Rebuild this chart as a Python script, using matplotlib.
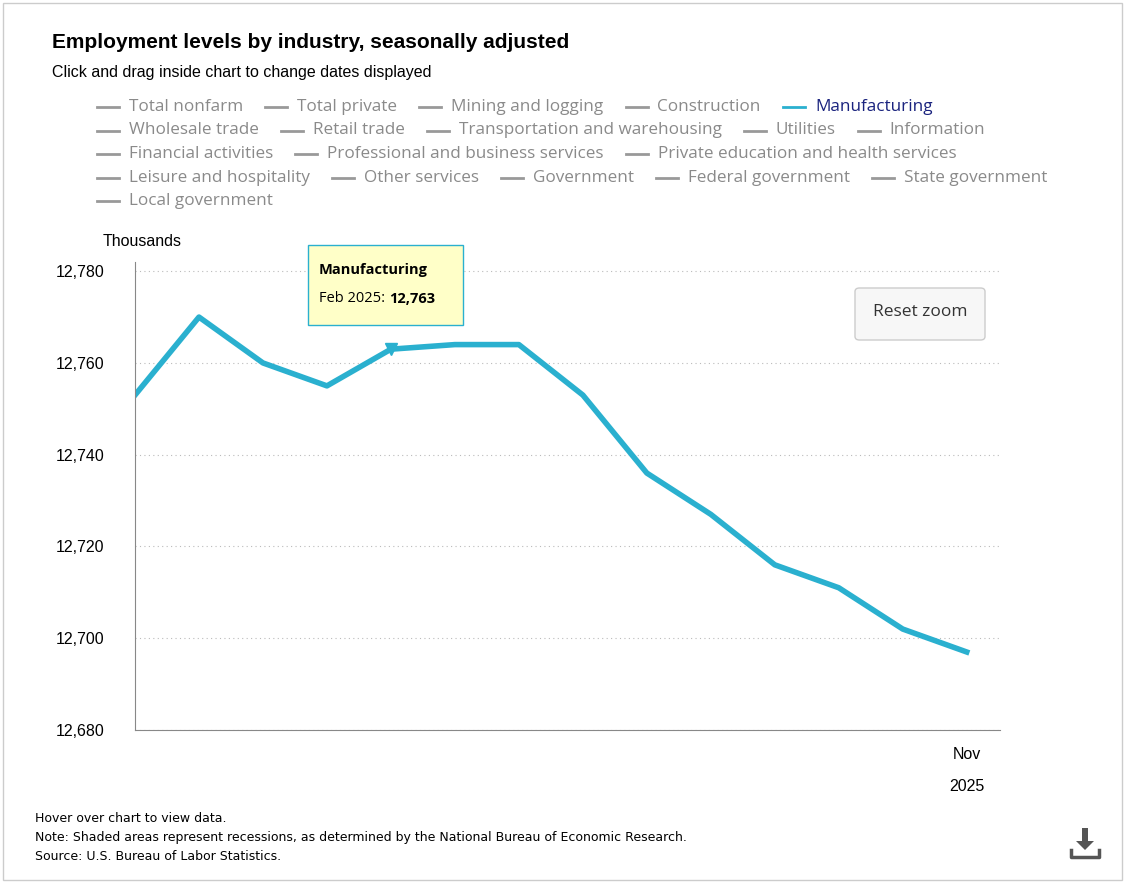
import matplotlib
matplotlib.use("Agg")
import matplotlib.pyplot as plt
from matplotlib.patches import Rectangle, FancyBboxPatch, Polygon

months = ["Oct 2024", "Nov 2024", "Dec 2024", "Jan 2025", "Feb 2025", "Mar 2025", "Apr 2025",
          "May 2025", "Jun 2025", "Jul 2025", "Aug 2025", "Sep 2025", "Oct 2025", "Nov 2025"]
values = [12753, 12770, 12760, 12755, 12763, 12764, 12764, 12753, 12736, 12727, 12716, 12711, 12702, 12697]
yticks = [12680, 12700, 12720, 12740, 12760, 12780]

legend_rows = [
    ["Total nonfarm", "Total private", "Mining and logging", "Construction", "Manufacturing"],
    ["Wholesale trade", "Retail trade", "Transportation and warehousing", "Utilities", "Information"],
    ["Financial activities", "Professional and business services", "Private education and health services"],
    ["Leisure and hospitality", "Other services", "Government", "Federal government", "State government"],
    ["Local government"],
]

W, H = 1125, 883
fig = plt.figure(figsize=(11.25, 8.83), dpi=100)
fig.add_artist(Rectangle((0.003, 0.003), 0.994, 0.994, transform=fig.transFigure,
                         fill=False, edgecolor="#cccccc", lw=1))

def fx(px): return px / W
def fy(py): return 1 - py / H

fig.text(fx(52), fy(42), "Employment levels by industry, seasonally adjusted", fontsize=15,
         fontweight="bold", family="Liberation Sans", va="center")
fig.text(fx(52), fy(72), "Click and drag inside chart to change dates displayed", fontsize=11.5,
         family="Liberation Sans", va="center")

# legend rows, laid out with measured text widths
renderer = fig.canvas.get_renderer()
for r, row in enumerate(legend_rows):
    x = 97
    y = 107 + r * 23.5
    for name in row:
        active = name == "Manufacturing"
        lc = "#2ab0cf" if active else "#999999"
        tc = "#1a237e" if active else "#8a8a8a"
        fig.add_artist(plt.Line2D([fx(x), fx(x + 22)], [fy(y), fy(y)], color=lc, lw=2))
        t = fig.text(fx(x + 32), fy(y), name, fontsize=12.3, color=tc, family="Open Sans", va="center")
        w = t.get_window_extent(renderer).width
        x = x + 32 + w + 22

ax = fig.add_axes([fx(135), fy(730), fx(1000 - 135), fy(262) - fy(730)])
ax.plot(range(len(values)), values, color="#2ab0cf", lw=4, solid_joinstyle="round")
ax.plot([4], [values[4]], marker="v", color="#2ab0cf", ms=8)
ax.set_xlim(0, len(values) - 1 + 0.52)
ax.set_ylim(12680, 12782)
ax.set_yticks(yticks)
ax.set_yticklabels([f"{v:,}" for v in yticks], fontsize=11.5, family="Liberation Sans")
ax.yaxis.grid(True, linestyle=(0, (1, 3)), color="#bbbbbb")
ax.set_xticks([len(values) - 1])
ax.set_xticklabels(["Nov\n\n2025"], fontsize=11.5, family="Liberation Sans", linespacing=1.1)
ax.tick_params(axis="y", length=0, pad=22)
ax.tick_params(axis="x", length=0, pad=12)
for s in ["top", "right"]:
    ax.spines[s].set_visible(False)
ax.spines["left"].set_color("#888888")
ax.spines["bottom"].set_color("#888888")
fig.text(fx(103), fy(242), "Thousands", fontsize=11.5, family="Liberation Sans", va="center")

# tooltip
fig.add_artist(FancyBboxPatch((fx(308), fy(325)), fx(155), fy(245) - fy(325), transform=fig.transFigure,
                              boxstyle="square,pad=0", facecolor="#ffffc8", edgecolor="#2ab0cf", lw=1))
fig.text(fx(319), fy(270), "Manufacturing", fontsize=10.5, fontweight="bold", family="Open Sans", va="center")
fig.text(fx(319), fy(299), "Feb 2025:", fontsize=10.5, family="Open Sans", va="center")
fig.text(fx(389), fy(299), "12,763", fontsize=10.5, fontweight="bold", family="Open Sans", va="center")

# reset zoom button
fig.add_artist(FancyBboxPatch((fx(855), fy(340)), fx(130), fy(288) - fy(340), transform=fig.transFigure,
                              boxstyle="round,pad=0,rounding_size=0.004", facecolor="#f7f7f7",
                              edgecolor="#cccccc", lw=1))
fig.text(fx(920), fy(312), "Reset zoom", fontsize=12.5, family="Open Sans", ha="center", va="center", color="#333333")

notes = ["Hover over chart to view data.",
         "Note: Shaded areas represent recessions, as determined by the National Bureau of Economic Research.",
         "Source: U.S. Bureau of Labor Statistics."]
for i, n in enumerate(notes):
    fig.text(fx(35), fy(818 + i * 19), n, fontsize=9, family="DejaVu Sans", va="center")

# download icon drawn as shapes
ic = "#555555"
fig.add_artist(Rectangle((fx(1082), fy(842)), fx(6), fy(828) - fy(842), transform=fig.transFigure,
                         facecolor=ic, edgecolor="none"))
fig.add_artist(Polygon([(fx(1076), fy(841)), (fx(1094), fy(841)), (fx(1085), fy(850))],
                       closed=True, transform=fig.transFigure, facecolor=ic, edgecolor="none"))
fig.add_artist(plt.Line2D([fx(1071), fx(1071), fx(1099), fx(1099)], [fy(850), fy(857), fy(857), fy(850)],
                          transform=fig.transFigure, color=ic, lw=2.5))

fig.savefig("out.png", dpi=100)
